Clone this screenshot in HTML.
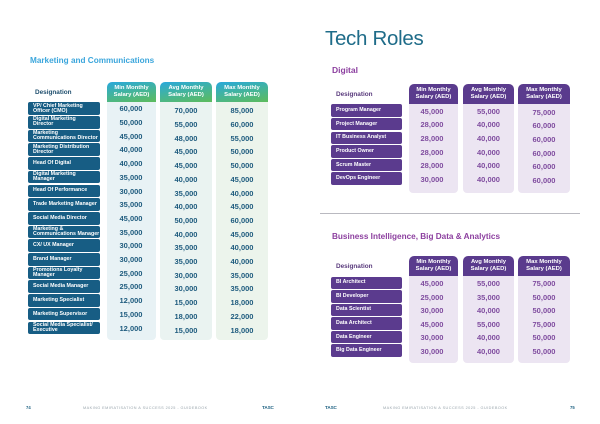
<!DOCTYPE html>
<html><head><meta charset="utf-8"><style>
*{margin:0;padding:0;box-sizing:border-box}
body{width:600px;height:424px;background:#fff;position:relative;overflow:hidden;font-family:"Liberation Sans",Arial,sans-serif}
.a{position:absolute}
.t1{left:30px;top:56px;font-weight:bold;font-size:8.2px;color:#3ba6dc;white-space:nowrap}
.des{font-weight:bold;font-size:6.4px;color:#1f4f6e;white-space:nowrap}
.hd{position:absolute;border-radius:5px 5px 0 0;color:#fff;font-weight:bold;font-size:5.9px;line-height:7px;text-align:center;display:flex;align-items:center;justify-content:center}
.hb{background:linear-gradient(170deg,#29a8dc 0%,#44b49a 50%,#5dbb5c 100%)}
.hp{background:#5a3b8d}
.cb{position:absolute;border-radius:0 0 4px 4px}
.row{position:absolute;left:0;width:600px;height:13px}
.lb{position:absolute;left:28px;top:0;width:72px;height:12.7px;background:#175d84;border-radius:2px;color:#fff;font-weight:bold;font-size:5.3px;line-height:4.9px;display:flex;align-items:center;padding-left:5px;white-space:nowrap}
.lp{position:absolute;left:331px;top:0;width:71px;height:12.6px;background:#5b3b8e;border-radius:2px;color:#fff;font-weight:bold;font-size:5.3px;line-height:4.9px;display:flex;align-items:center;padding-left:5px;white-space:nowrap}
.v{position:absolute;width:50px;text-align:center;font-weight:bold;font-size:7.5px;line-height:10px;height:10px}
.bl .v{color:#1e5b7e}
.pu .v{color:#7f4c9f}
.bl .x{left:106px;top:2px}.bl .y{left:161px;top:4px}.bl .z{left:217px;top:4px}
.pu .x{left:407px;top:2.5px}.pu .y{left:463.5px;top:2.5px}.pu .z{left:519px;top:3.5px}
.ft{font-size:3.8px;letter-spacing:0.45px;color:#9aa6ad;white-space:nowrap}
.pg{font-size:4.2px;font-weight:bold;color:#1b5f80}
.logo{font-size:4.6px;font-weight:bold;color:#1b5f80;letter-spacing:-0.1px}
</style></head><body>

<!-- LEFT PAGE -->
<div class="a t1">Marketing and Communications</div>
<div class="a des" style="left:35px;top:89px">Designation</div>

<div class="hd hb" style="left:107px;top:82px;width:49px;height:20px">Min Monthly<br>Salary (AED)</div>
<div class="hd hb" style="left:160px;top:82px;width:52px;height:20px">Avg Monthly<br>Salary (AED)</div>
<div class="hd hb" style="left:216px;top:82px;width:52px;height:20px">Max Monthly<br>Salary (AED)</div>
<div class="cb" style="left:107px;top:102px;width:49px;height:238px;background:#e8f2f5"></div>
<div class="cb" style="left:160px;top:102px;width:52px;height:238px;background:#eaf3f1"></div>
<div class="cb" style="left:216px;top:102px;width:52px;height:238px;background:#ecf4ec"></div>

<div class="bl">
<div class="row" style="top:102.3px"><div class="lb">VP/ Chief Marketing<br>Officer (CMO)</div><span class="v x">60,000</span><span class="v y">70,000</span><span class="v z">85,000</span></div>
<div class="row" style="top:116px"><div class="lb">Digital Marketing<br>Director</div><span class="v x">50,000</span><span class="v y">55,000</span><span class="v z">60,000</span></div>
<div class="row" style="top:129.7px"><div class="lb">Marketing<br>Communications Director</div><span class="v x">45,000</span><span class="v y">48,000</span><span class="v z">55,000</span></div>
<div class="row" style="top:143.4px"><div class="lb">Marketing Distribution<br>Director</div><span class="v x">40,000</span><span class="v y">45,000</span><span class="v z">50,000</span></div>
<div class="row" style="top:157.1px"><div class="lb">Head Of Digital</div><span class="v x">40,000</span><span class="v y">45,000</span><span class="v z">50,000</span></div>
<div class="row" style="top:170.8px"><div class="lb">Digital Marketing<br>Manager</div><span class="v x">35,000</span><span class="v y">40,000</span><span class="v z">45,000</span></div>
<div class="row" style="top:184.5px"><div class="lb">Head Of Performance</div><span class="v x">30,000</span><span class="v y">35,000</span><span class="v z">40,000</span></div>
<div class="row" style="top:198.2px"><div class="lb">Trade Marketing Manager</div><span class="v x">35,000</span><span class="v y">40,000</span><span class="v z">45,000</span></div>
<div class="row" style="top:211.9px"><div class="lb">Social Media Director</div><span class="v x">45,000</span><span class="v y">50,000</span><span class="v z">60,000</span></div>
<div class="row" style="top:225.6px"><div class="lb">Marketing &amp;<br>Communications Manager</div><span class="v x">35,000</span><span class="v y">40,000</span><span class="v z">45,000</span></div>
<div class="row" style="top:239.3px"><div class="lb">CX/ UX Manager</div><span class="v x">30,000</span><span class="v y">35,000</span><span class="v z">40,000</span></div>
<div class="row" style="top:253px"><div class="lb">Brand Manager</div><span class="v x">30,000</span><span class="v y">35,000</span><span class="v z">40,000</span></div>
<div class="row" style="top:266.7px"><div class="lb">Promotions Loyalty<br>Manager</div><span class="v x">25,000</span><span class="v y">30,000</span><span class="v z">35,000</span></div>
<div class="row" style="top:280.4px"><div class="lb">Social Media Manager</div><span class="v x">25,000</span><span class="v y">30,000</span><span class="v z">35,000</span></div>
<div class="row" style="top:294.1px"><div class="lb">Marketing Specialist</div><span class="v x">12,000</span><span class="v y">15,000</span><span class="v z">18,000</span></div>
<div class="row" style="top:307.8px"><div class="lb">Marketing Supervisor</div><span class="v x">15,000</span><span class="v y">18,000</span><span class="v z">22,000</span></div>
<div class="row" style="top:321.5px"><div class="lb">Social Media Specialist/<br>Executive</div><span class="v x">12,000</span><span class="v y">15,000</span><span class="v z">18,000</span></div>
</div>

<div class="a pg" style="left:26px;top:405px">74</div>
<div class="a ft" style="left:83px;top:406px">MAKING EMIRATISATION A SUCCESS 2025 - GUIDEBOOK</div>
<div class="a logo" style="left:262px;top:405px">TASC</div>

<!-- RIGHT PAGE -->
<div class="a" style="left:325px;top:27px;font-size:20.5px;color:#1f6c89;letter-spacing:-0.3px;white-space:nowrap">Tech Roles</div>
<div class="a" style="left:332px;top:65px;font-weight:bold;font-size:8.5px;color:#8c3f9f">Digital</div>
<div class="a des" style="left:336px;top:91px;color:#5a3b7d">Designation</div>

<div class="hd hp" style="left:409px;top:84px;width:49px;height:19.5px">Min Monthly<br>Salary (AED)</div>
<div class="hd hp" style="left:463px;top:84px;width:51px;height:19.5px">Avg Monthly<br>Salary (AED)</div>
<div class="hd hp" style="left:518px;top:84px;width:52px;height:19.5px">Max Monthly<br>Salary (AED)</div>
<div class="cb" style="left:409px;top:103.5px;width:49px;height:89.5px;background:#ece5f2"></div>
<div class="cb" style="left:463px;top:103.5px;width:51px;height:89.5px;background:#ece5f2"></div>
<div class="cb" style="left:518px;top:103.5px;width:52px;height:89.5px;background:#ece5f2"></div>

<div class="pu">
<div class="row" style="top:104.3px"><div class="lp">Program Manager</div><span class="v x">45,000</span><span class="v y">55,000</span><span class="v z">75,000</span></div>
<div class="row" style="top:117.9px"><div class="lp">Project Manager</div><span class="v x">28,000</span><span class="v y">40,000</span><span class="v z">60,000</span></div>
<div class="row" style="top:131.5px"><div class="lp">IT Business Analyst</div><span class="v x">28,000</span><span class="v y">40,000</span><span class="v z">60,000</span></div>
<div class="row" style="top:145.1px"><div class="lp">Product Owner</div><span class="v x">28,000</span><span class="v y">40,000</span><span class="v z">60,000</span></div>
<div class="row" style="top:158.7px"><div class="lp">Scrum Master</div><span class="v x">28,000</span><span class="v y">40,000</span><span class="v z">60,000</span></div>
<div class="row" style="top:172.3px"><div class="lp">DevOps Engineer</div><span class="v x">30,000</span><span class="v y">40,000</span><span class="v z">60,000</span></div>
</div>

<div class="a" style="left:320px;top:212.5px;width:260px;height:1.5px;background:#b9b9c0"></div>

<div class="a" style="left:332px;top:231.5px;font-weight:bold;font-size:8.2px;color:#8c3f9f;white-space:nowrap">Business Intelligence, Big Data &amp; Analytics</div>
<div class="a des" style="left:336px;top:263px;color:#5a3b7d">Designation</div>

<div class="hd hp" style="left:409px;top:256px;width:49px;height:19.5px">Min Monthly<br>Salary (AED)</div>
<div class="hd hp" style="left:463px;top:256px;width:51px;height:19.5px">Avg Monthly<br>Salary (AED)</div>
<div class="hd hp" style="left:518px;top:256px;width:52px;height:19.5px">Max Monthly<br>Salary (AED)</div>
<div class="cb" style="left:409px;top:275.5px;width:49px;height:87.5px;background:#ece5f2"></div>
<div class="cb" style="left:463px;top:275.5px;width:51px;height:87.5px;background:#ece5f2"></div>
<div class="cb" style="left:518px;top:275.5px;width:52px;height:87.5px;background:#ece5f2"></div>

<div class="pu">
<div class="row" style="top:276.5px"><div class="lp">BI Architect</div><span class="v x">45,000</span><span class="v y">55,000</span><span class="v z" style="top:2.5px">75,000</span></div>
<div class="row" style="top:290px"><div class="lp">BI Developer</div><span class="v x">25,000</span><span class="v y">35,000</span><span class="v z" style="top:2.5px">50,000</span></div>
<div class="row" style="top:303.6px"><div class="lp">Data Scientist</div><span class="v x">30,000</span><span class="v y">40,000</span><span class="v z" style="top:2.5px">50,000</span></div>
<div class="row" style="top:317.1px"><div class="lp">Data Architect</div><span class="v x">45,000</span><span class="v y">55,000</span><span class="v z" style="top:2.5px">75,000</span></div>
<div class="row" style="top:330.7px"><div class="lp">Data Engineer</div><span class="v x">30,000</span><span class="v y">40,000</span><span class="v z" style="top:2.5px">50,000</span></div>
<div class="row" style="top:344.2px"><div class="lp">Big Data Engineer</div><span class="v x">30,000</span><span class="v y">40,000</span><span class="v z" style="top:2.5px">50,000</span></div>
</div>

<div class="a logo" style="left:325px;top:405px">TASC</div>
<div class="a ft" style="left:383px;top:406px">MAKING EMIRATISATION A SUCCESS 2025 - GUIDEBOOK</div>
<div class="a pg" style="left:570px;top:405px">75</div>

</body></html>
